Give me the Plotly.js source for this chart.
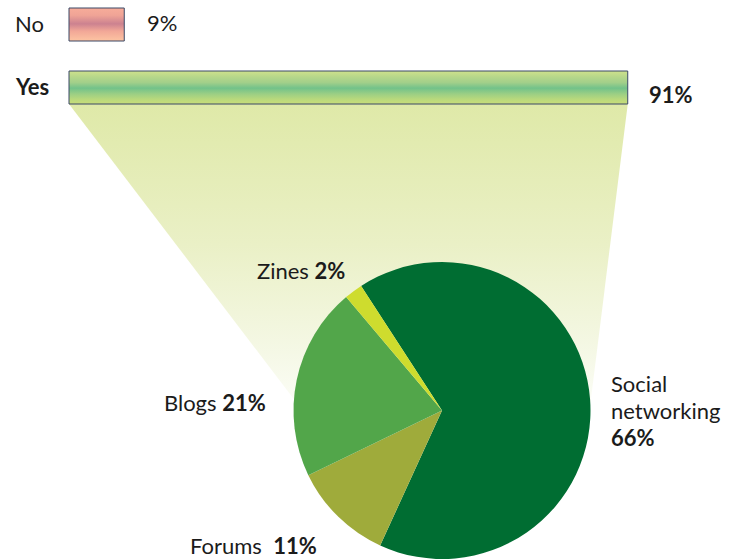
<!DOCTYPE html>
<html><head><meta charset="utf-8">
<script src="https://cdn.plot.ly/plotly-3.0.1.min.js"></script>
<style>html,body{margin:0;padding:0;background:#fff;overflow:hidden}#chart{width:737px;height:559px}</style>
</head><body><div id="chart"></div>
<script>
// ---- data ----
const answerLabels = ['No', 'Yes'];
const answerValues = [9, 91];
const channelLabels = ['Social networking', 'Forums', 'Blogs', 'Zines'];
const channelValues = [66, 11, 21, 2];
const channelColors = ['#006d32', '#9fab3b', '#52a64a', '#cedc2e'];

// ---- styles / geometry ----
const W = 737, H = 559;
const X0 = 69, PXPER = 6.14;           // pixel of 0 % and pixels per percent
const xRange = [-X0 / PXPER, (W - X0) / PXPER];
const rowY = i => 24.5 + i * 63;       // bar centre (pixel units on y axis)
const halfH = 16.5;
const barScales = [
  [[0,'#f7ac9a'],[0.22,'#f0a496'],[0.48,'#cc8290'],[0.7,'#f2a797'],[1,'#fdc4a2']],
  [[0,'#cfe18c'],[0.18,'#b6d78a'],[0.35,'#a2cf8a'],[0.52,'#72c28a'],[0.7,'#9ccf84'],[0.86,'#b9d97c'],[1,'#c9dd7a']]
];
const FONT = 'Lato, "Open Sans", sans-serif';
const TXT = '#1b1b1b';
const FS = 22;

// pie geometry (paper pixels)
const pieR = 148.5, pieCx = 442, pieCy = H - pieR;
const pieDomain = {
  x: [(pieCx - pieR) / W, (pieCx + pieR) / W],
  y: [0, (2 * pieR) / H]
};
const toPct = px => (px - X0) / PXPER;

const traces = [];

// funnel from the "Yes" bar to the pie
const yesIdx = answerLabels.indexOf('Yes');
const fTop = rowY(yesIdx) + halfH;
traces.push({
  type: 'scatter', mode: 'lines', hoverinfo: 'skip', showlegend: false,
  x: [0, answerValues[yesIdx], toPct(pieCx + pieR - 1), toPct(pieCx - pieR + 9), 0],
  y: [fTop, fTop, pieCy, pieCy, fTop],
  fill: 'toself', line: {width: 0},
  fillgradient: {type: 'vertical', start: fTop, stop: pieCy + 5,
    colorscale: [[0,'#dfe9a8'],[0.45,'#eaf0c6'],[0.8,'#f5f8e6'],[1,'#fdfefa']]}
});

// bars (gradient-filled rectangles on the percent axis)
answerValues.forEach((v, i) => {
  const t = rowY(i) - halfH, b = rowY(i) + halfH;
  traces.push({
    type: 'scatter', mode: 'lines', hoverinfo: 'skip', showlegend: false,
    x: [0, v, v, 0, 0], y: [t, t, b, b, t],
    fill: 'toself', line: {color: '#3a4866', width: 1},
    fillgradient: {type: 'vertical', start: t, stop: b, colorscale: barScales[i]}
  });
});

// pie
traces.push({
  type: 'pie', values: channelValues, labels: channelLabels,
  marker: {colors: channelColors, line: {width: 0}},
  sort: false, direction: 'clockwise', rotation: -33,
  textinfo: 'none', hoverinfo: 'label+percent', showlegend: false,
  domain: pieDomain
});

// ---- annotations ----
const ann = (text, px, py, size) => ({
  text, x: px / W, y: 1 - py / H, xref: 'paper', yref: 'paper',
  xanchor: 'left', yanchor: 'middle', showarrow: false,
  font: {family: FONT, size: size || FS, color: TXT}
});
const annotations = [];
answerLabels.forEach((lab, i) => {
  const emph = i === yesIdx;
  annotations.push(ann(emph ? '<b>' + lab + '</b>' : lab, 13, rowY(i) - 1));
  const vt = answerValues[i] + '%';
  annotations.push(emph ? ann('<b>' + vt + '</b>', 647, rowY(i) + 7)
                        : ann(vt, 145, rowY(i) - 2));
});
const labelPos = {
  'Zines': [255, 270], 'Blogs': [162, 402], 'Forums': [188, 545]
};
channelLabels.forEach((lab, i) => {
  const pct = '<b>' + channelValues[i] + '%</b>';
  if (labelPos[lab]) {
    const sep = lab === 'Forums' ? '\u00a0\u00a0' : ' ';
    annotations.push(ann(lab + sep + pct, labelPos[lab][0], labelPos[lab][1]));
  } else {
    const lines = lab.split(' ').concat([pct]);
    lines.forEach((ln, k) => annotations.push(ann(ln, 609, 383 + k * 27)));
  }
});

const layout = {
  width: W, height: H, margin: {l: 0, r: 0, t: 0, b: 0},
  paper_bgcolor: '#fff', plot_bgcolor: 'rgba(0,0,0,0)',
  showlegend: false,
  xaxis: {range: xRange, visible: false, fixedrange: true},
  yaxis: {range: [H, 0], visible: false, fixedrange: true},
  annotations
};
Plotly.newPlot('chart', traces, layout, {displayModeBar: false, staticPlot: true});
</script></body></html>
